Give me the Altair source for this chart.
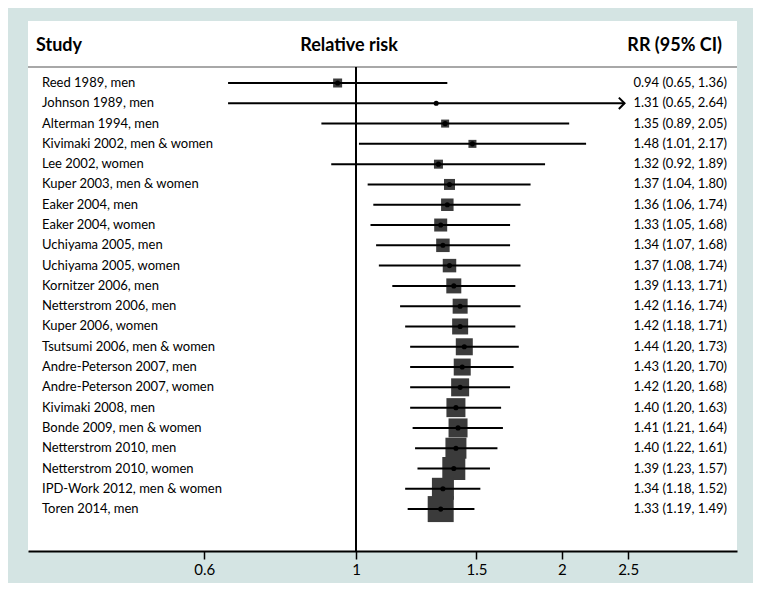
import altair as alt
import pandas as pd

studies = [
    "Reed 1989, men", "Johnson 1989, men", "Alterman 1994, men",
    "Kivimaki 2002, men & women", "Lee 2002, women", "Kuper 2003, men & women",
    "Eaker 2004, men", "Eaker 2004, women", "Uchiyama 2005, men",
    "Uchiyama 2005, women", "Kornitzer 2006, men", "Netterstrom 2006, men",
    "Kuper 2006, women", "Tsutsumi 2006, men & women", "Andre-Peterson 2007, men",
    "Andre-Peterson 2007, women", "Kivimaki 2008, men", "Bonde 2009, men & women",
    "Netterstrom 2010, men", "Netterstrom 2010, women", "IPD-Work 2012, men & women",
    "Toren 2014, men",
]
rr = [0.94, 1.31, 1.35, 1.48, 1.32, 1.37, 1.36, 1.33, 1.34, 1.37, 1.39,
      1.42, 1.42, 1.44, 1.43, 1.42, 1.40, 1.41, 1.40, 1.39, 1.34, 1.33]
lo = [0.65, 0.65, 0.89, 1.01, 0.92, 1.04, 1.06, 1.05, 1.07, 1.08, 1.13,
      1.16, 1.18, 1.20, 1.20, 1.20, 1.20, 1.21, 1.22, 1.23, 1.18, 1.19]
hi = [1.36, 2.64, 2.05, 2.17, 1.89, 1.80, 1.74, 1.68, 1.68, 1.74, 1.71,
      1.74, 1.71, 1.73, 1.70, 1.68, 1.63, 1.64, 1.61, 1.57, 1.52, 1.49]
# relative study weight (drives square area)
weight = [81, 0, 64, 64, 81, 121, 156, 169, 182, 182, 225,
          225, 256, 289, 289, 324, 361, 361, 441, 529, 484, 676]
tick_values = [0.6, 1, 1.5, 2, 2.5]

X_MIN, X_MAX = 0.3314, 3.607
CLIP = 2.47  # arrow where CI runs beyond the displayed range

df = pd.DataFrame({
    "study": studies, "rr": rr, "lo": lo, "hi": hi, "weight": weight,
})
df["row"] = range(len(df))
df["hi_plot"] = [min(h, CLIP) for h in hi]
df["label"] = [f"{r:.2f} ({l:.2f}, {h:.2f})" for r, l, h in zip(rr, lo, hi)]
arrows = df[df["hi"] > CLIP]

W, H = 709, 530
FONT = "Lato"

xscale = alt.Scale(type="log", domain=[X_MIN, X_MAX], nice=False)
yscale = alt.Scale(domain=[-3.056, 23.066], reverse=True)

xenc = alt.X("rr:Q", scale=xscale,
             axis=alt.Axis(values=tick_values, format="~g", title=None))
yenc = alt.Y("row:Q", scale=yscale, axis=None)

base = alt.Chart(df)
one = alt.Chart(pd.DataFrame({"k": [0]}))

header_line = one.mark_rule(color="#a8a8a8", strokeWidth=2).encode(
    x=alt.value(0), x2=alt.value(W), y=alt.value(46))

ref_line = one.mark_rule(color="black", strokeWidth=2).encode(
    x=alt.datum(1, scale=xscale), y=alt.value(46), y2=alt.value(H))

squares = base.mark_square(color="#3b3b3b", opacity=1).encode(
    x=xenc, y=yenc,
    size=alt.Size("weight:Q", scale=alt.Scale(domain=[0, 676], range=[0, 676]),
                  legend=None))

ci = base.mark_rule(color="black", strokeWidth=2).encode(
    x=alt.X("lo:Q", scale=xscale), x2="hi_plot:Q", y=yenc)

dots = base.mark_circle(color="black", size=26, opacity=1).encode(x=xenc, y=yenc)

arrow = alt.Chart(arrows).mark_point(
    shape="M-1,-1L0,0L-1,1", filled=False, color="black", strokeWidth=2,
    size=130, opacity=1).encode(x=alt.X("hi_plot:Q", scale=xscale), y=yenc)

study_text = base.mark_text(align="left", baseline="middle", fontSize=13,
                            font=FONT, color="black").encode(
    x=alt.value(14), y=yenc, text="study:N")

rr_text = base.mark_text(align="right", baseline="middle", fontSize=13,
                         font=FONT, color="black").encode(
    x=alt.value(699), y=yenc, text="label:N")

hdr = lambda txt, xpos, al: one.mark_text(
    text=txt, align=al, baseline="middle", fontSize=18, fontWeight="bold",
    font=FONT, color="black").encode(x=alt.value(xpos), y=alt.value(24.5))

chart = alt.layer(
    header_line, ref_line, squares, ci, dots, arrow, study_text, rr_text,
    hdr("Study", 8, "left"), hdr("Relative risk", 321, "center"),
    hdr("RR (95% CI)", 694, "right"),
).properties(
    width=W, height=H,
    autosize=alt.AutoSizeParams(type="none"),
    padding={"left": 20, "top": 13, "right": 16, "bottom": 32},
    background="#d4e4e3",
).configure_view(
    stroke=None, fill="white"
).configure_axis(
    grid=False, domainColor="black", domainWidth=2, tickColor="black",
    tickWidth=1.5, tickSize=8, labelFontSize=15, labelFont=FONT,
    labelColor="black", labelPadding=3,
)

chart.save("out.html", embed_options={"renderer": "svg", "actions": False})
